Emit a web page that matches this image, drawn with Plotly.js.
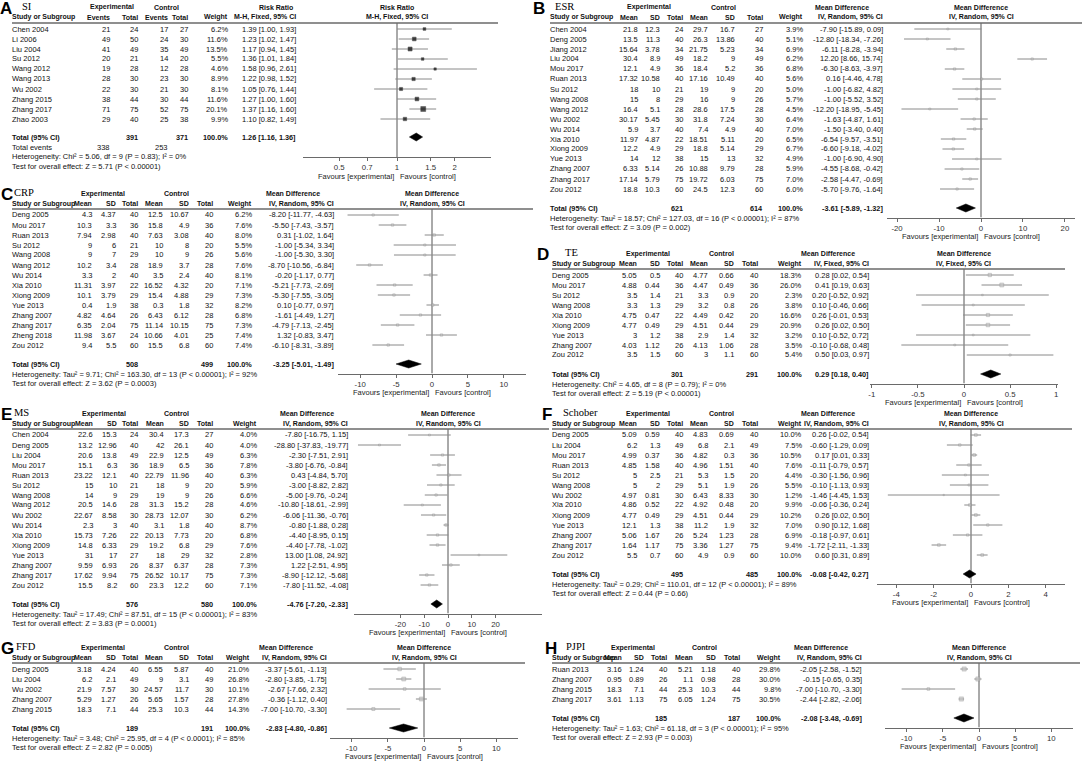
<!DOCTYPE html>
<html><head><meta charset="utf-8">
<script src="https://cdn.plot.ly/plotly-3.0.1.min.js"></script>
<style>html,body{margin:0;padding:0;background:#fff}#chart{width:1084px;height:764px}</style>
</head><body><div id="chart"></div>
<script>
// ===================== DATA =====================
// A: SI (Risk Ratio)
const A_study = ["Chen 2004","Li 2006","Liu 2004","Su 2012","Wang 2012","Wang 2013","Wu 2002","Zhang 2015","Zhang 2017","Zhao 2003"];
const A_expEvents = [21,49,41,20,19,28,22,38,71,29];
const A_expTotal = [24,50,49,21,28,30,30,44,75,40];
const A_ctlEvents = [17,24,35,14,12,23,21,30,52,25];
const A_ctlTotal = [27,30,49,20,28,30,30,44,75,38];
const A_weight = [6.2,11.6,13.5,5.5,4.6,8.9,8.1,11.6,20.1,9.9];
const A_est = [1.39,1.23,1.17,1.36,1.58,1.22,1.05,1.27,1.37,1.10];
const A_lo = [1.00,1.02,0.94,1.01,0.96,0.98,0.76,1.00,1.16,0.82];
const A_hi = [1.93,1.47,1.45,1.84,2.61,1.52,1.44,1.60,1.60,1.49];
const A_totalN = [391,371];
const A_totalEvents = [338,253];
const A_total = [1.26,1.16,1.36];
const A_het = "Heterogeneity: Chi² = 5.06, df = 9 (P = 0.83); I² = 0%";
const A_test = "Test for overall effect: Z = 5.71 (P < 0.00001)";

// B: ESR
const B_study = ["Chen 2004","Deng 2005","Jiang 2012","Liu 2004","Mou 2017","Ruan 2013","Su 2012","Wang 2008","Wang 2012","Wu 2002","Wu 2014","Xia 2010","Xiong 2009","Yue 2013","Zhang 2007","Zhang 2017","Zou 2012"];
const B_expMean = [21.8,13.5,15.64,30.4,12.1,17.32,18,15,16.4,30.17,5.9,11.97,12.2,14,6.33,17.14,18.8];
const B_expSD = [12.3,11.3,3.78,8.9,4.9,10.58,10,8,5.1,5.45,3.7,4.87,4.9,12,5.14,5.79,10.3];
const B_expN = [24,40,34,49,36,40,21,29,28,30,40,22,29,38,26,75,60];
const B_ctlMean = [29.7,26.3,21.75,18.2,18.4,17.16,19,16,28.6,31.8,7.4,18.51,18.8,15,10.88,19.72,24.5];
const B_ctlSD = [16.7,13.86,5.23,9,5.2,10.49,9,9,17.5,7.24,4.9,5.11,5.14,13,9.79,6.03,12.3];
const B_ctlN = [27,40,34,49,36,40,20,26,28,30,40,20,29,32,28,75,60];
const B_weight = [3.9,5.1,6.9,6.2,6.8,5.6,5.0,5.7,4.5,6.4,7.0,6.5,6.7,4.9,5.9,7.0,6.0];
const B_est = [-7.90,-12.80,-6.11,12.20,-6.30,0.16,-1.00,-1.00,-12.20,-1.63,-1.50,-6.54,-6.60,-1.00,-4.55,-2.58,-5.70];
const B_lo = [-15.89,-18.34,-8.28,8.66,-8.63,-4.46,-6.82,-5.52,-18.95,-4.87,-3.40,-9.57,-9.18,-6.90,-8.68,-4.47,-9.76];
const B_hi = [0.09,-7.26,-3.94,15.74,-3.97,4.78,4.82,3.52,-5.45,1.61,0.40,-3.51,-4.02,4.90,-0.42,-0.69,-1.64];
const B_totalN = [621,614];
const B_total = [-3.61,-5.89,-1.32];
const B_het = "Heterogeneity: Tau² = 18.57; Chi² = 127.03, df = 16 (P < 0.00001); I² = 87%";
const B_test = "Test for overall effect: Z = 3.09 (P = 0.002)";

// C: CRP
const C_study = ["Deng 2005","Mou 2017","Ruan 2013","Su 2012","Wang 2008","Wang 2012","Wu 2014","Xia 2010","Xiong 2009","Yue 2013","Zhang 2007","Zhang 2017","Zheng 2018","Zou 2012"];
const C_expMean = [4.3,10.3,7.94,9,9,10.2,3.3,11.31,10.1,0.4,4.82,6.35,11.98,9.4];
const C_expSD = [4.37,3.3,2.98,6,7,3.4,2,3.97,3.79,1.9,4.64,2.04,3.67,5.5];
const C_expN = [40,36,40,21,29,28,40,22,29,38,26,75,24,60];
const C_ctlMean = [12.5,15.8,7.63,10,10,18.9,3.5,16.52,15.4,0.3,6.43,11.14,10.66,15.5];
const C_ctlSD = [10.67,4.9,3.08,8,9,3.7,2.4,4.32,4.88,1.8,6.12,10.15,4.01,6.8];
const C_ctlN = [40,36,40,20,26,28,40,20,29,32,28,75,25,60];
const C_weight = [6.2,7.6,8.0,5.5,5.6,7.6,8.1,7.1,7.3,8.2,6.8,7.3,7.4,7.4];
const C_est = [-8.20,-5.50,0.31,-1.00,-1.00,-8.70,-0.20,-5.21,-5.30,0.10,-1.61,-4.79,1.32,-6.10];
const C_lo = [-11.77,-7.43,-1.02,-5.34,-5.30,-10.56,-1.17,-7.73,-7.55,-0.77,-4.49,-7.13,-0.83,-8.31];
const C_hi = [-4.63,-3.57,1.64,3.34,3.30,-6.84,0.77,-2.69,-3.05,0.97,1.27,-2.45,3.47,-3.89];
const C_totalN = [508,499];
const C_total = [-3.25,-5.01,-1.49];
const C_het = "Heterogeneity: Tau² = 9.71; Chi² = 163.30, df = 13 (P < 0.00001); I² = 92%";
const C_test = "Test for overall effect: Z = 3.62 (P = 0.0003)";

// D: TE
const D_study = ["Deng 2005","Mou 2017","Su 2012","Wang 2008","Xia 2010","Xiong 2009","Yue 2013","Zhang 2007","Zou 2012"];
const D_expMean = [5.05,4.88,3.5,3.3,4.75,4.77,3,4.03,3.5];
const D_expSD = [0.5,0.44,1.4,1.3,0.47,0.49,1.2,1.12,1.5];
const D_expN = [40,36,21,29,22,29,38,26,60];
const D_ctlMean = [4.77,4.47,3.3,3.2,4.49,4.51,2.9,4.13,3];
const D_ctlSD = [0.66,0.49,0.9,0.8,0.42,0.44,1.4,1.06,1.1];
const D_ctlN = [40,36,20,26,20,29,32,28,60];
const D_weight = [18.3,26.0,2.3,3.8,16.6,20.9,3.2,3.5,5.4];
const D_est = [0.28,0.41,0.20,0.10,0.26,0.26,0.10,-0.10,0.50];
const D_lo = [0.02,0.19,-0.52,-0.46,-0.01,0.02,-0.52,-0.68,0.03];
const D_hi = [0.54,0.63,0.92,0.66,0.53,0.50,0.72,0.48,0.97];
const D_totalN = [301,291];
const D_total = [0.29,0.18,0.40];
const D_het = "Heterogeneity: Chi² = 4.65, df = 8 (P = 0.79); I² = 0%";
const D_test = "Test for overall effect: Z = 5.19 (P < 0.00001)";

// E: MS
const E_study = ["Chen 2004","Deng 2005","Liu 2004","Mou 2017","Ruan 2013","Su 2012","Wang 2008","Wang 2012","Wu 2002","Wu 2014","Xia 2010","Xiong 2009","Yue 2013","Zhang 2007","Zhang 2017","Zou 2012"];
const E_expMean = [22.6,13.2,20.6,15.1,23.22,15,14,20.5,22.67,2.3,15.73,14.8,31,9.59,17.62,15.5];
const E_expSD = [15.3,12.96,13.8,6.3,12.1,10,9,14.6,8.58,3,7.26,6.33,17,6.93,9.94,8.2];
const E_expN = [24,40,49,36,40,21,29,28,30,40,22,29,27,26,75,60];
const E_ctlMean = [30.4,42,22.9,18.9,22.79,18,19,31.3,28.73,3.1,20.13,19.2,18,8.37,26.52,23.3];
const E_ctlSD = [17.3,26.1,12.5,6.5,11.96,9,9,15.2,12.07,1.8,7.73,6.8,29,6.37,10.17,12.2];
const E_ctlN = [27,40,49,36,40,20,26,28,30,40,20,29,32,28,75,60];
const E_weight = [4.0,4.0,6.3,7.8,6.3,5.9,6.6,4.6,6.2,8.7,6.8,7.6,2.8,7.3,7.3,7.1];
const E_est = [-7.80,-28.80,-2.30,-3.80,0.43,-3.00,-5.00,-10.80,-6.06,-0.80,-4.40,-4.40,13.00,1.22,-8.90,-7.80];
const E_lo = [-16.75,-37.83,-7.51,-6.76,-4.84,-8.82,-9.76,-18.61,-11.36,-1.88,-8.95,-7.78,1.08,-2.51,-12.12,-11.52];
const E_hi = [1.15,-19.77,2.91,-0.84,5.70,2.82,-0.24,-2.99,-0.76,0.28,0.15,-1.02,24.92,4.95,-5.68,-4.08];
const E_totalN = [576,580];
const E_total = [-4.76,-7.20,-2.33];
const E_het = "Heterogeneity: Tau² = 17.49; Chi² = 87.51, df = 15 (P < 0.00001); I² = 83%";
const E_test = "Test for overall effect: Z = 3.83 (P = 0.0001)";

// F: Schober
const F_study = ["Deng 2005","Liu 2004","Mou 2017","Ruan 2013","Su 2012","Wang 2008","Wu 2002","Xia 2010","Xiong 2009","Yue 2013","Zhang 2007","Zhang 2017","Zou 2012"];
const F_expMean = [5.09,6.2,4.99,4.85,5,5,4.97,4.86,4.77,12.1,5.06,1.64,5.5];
const F_expSD = [0.59,1.3,0.37,1.58,2.5,2,0.81,0.52,0.49,1.3,1.67,1.17,0.7];
const F_expN = [40,49,36,40,21,29,30,22,29,38,26,75,60];
const F_ctlMean = [4.83,6.8,4.82,4.96,5.3,5.1,6.43,4.92,4.51,11.2,5.24,3.36,4.9];
const F_ctlSD = [0.69,2.1,0.3,1.51,1.5,1.9,8.33,0.48,0.44,1.9,1.23,1.27,0.9];
const F_ctlN = [40,49,36,40,20,26,30,20,29,32,28,75,60];
const F_weight = [10.0,7.5,10.5,7.6,4.4,5.5,1.2,9.9,10.2,7.0,6.9,9.4,10.0];
const F_est = [0.26,-0.60,0.17,-0.11,-0.30,-0.10,-1.46,-0.06,0.26,0.90,-0.18,-1.72,0.60];
const F_lo = [-0.02,-1.29,0.01,-0.79,-1.56,-1.13,-4.45,-0.36,0.02,0.12,-0.97,-2.11,0.31];
const F_hi = [0.54,0.09,0.33,0.57,0.96,0.93,1.53,0.24,0.50,1.68,0.61,-1.33,0.89];
const F_totalN = [495,485];
const F_total = [-0.08,-0.42,0.27];
const F_het = "Heterogeneity: Tau² = 0.29; Chi² = 110.01, df = 12 (P < 0.00001); I² = 89%";
const F_test = "Test for overall effect: Z = 0.44 (P = 0.66)";

// G: FFD
const G_study = ["Deng 2005","Liu 2004","Wu 2002","Zhang 2007","Zhang 2015"];
const G_expMean = [3.18,6.2,21.9,5.29,18.3];
const G_expSD = [4.24,2.1,7.57,1.27,7.1];
const G_expN = [40,49,30,26,44];
const G_ctlMean = [6.55,9,24.57,5.65,25.3];
const G_ctlSD = [5.87,3.1,11.7,1.57,10.3];
const G_ctlN = [40,49,30,28,44];
const G_weight = [21.0,26.8,10.1,27.8,14.3];
const G_est = [-3.37,-2.80,-2.67,-0.36,-7.00];
const G_lo = [-5.61,-3.85,-7.66,-1.12,-10.70];
const G_hi = [-1.13,-1.75,2.32,0.40,-3.30];
const G_totalN = [189,191];
const G_total = [-2.83,-4.80,-0.86];
const G_het = "Heterogeneity: Tau² = 3.48; Chi² = 25.95, df = 4 (P < 0.0001); I² = 85%";
const G_test = "Test for overall effect: Z = 2.82 (P = 0.005)";

// H: PJPI
const H_study = ["Ruan 2013","Zhang 2007","Zhang 2015","Zhang 2017"];
const H_expMean = [3.16,0.95,18.3,3.61];
const H_expSD = [1.24,0.89,7.1,1.13];
const H_expN = [40,26,44,75];
const H_ctlMean = [5.21,1.1,25.3,6.05];
const H_ctlSD = [1.18,0.98,10.3,1.24];
const H_ctlN = [40,28,44,75];
const H_weight = [29.8,30.0,9.8,30.5];
const H_est = [-2.05,-0.15,-7.00,-2.44];
const H_lo = [-2.58,-0.65,-10.70,-2.82];
const H_hi = [-1.52,0.35,-3.30,-2.06];
const H_totalN = [185,187];
const H_total = [-2.08,-3.48,-0.69];
const H_het = "Heterogeneity: Tau² = 1.63; Chi² = 61.18, df = 3 (P < 0.00001); I² = 95%";
const H_test = "Test for overall effect: Z = 2.93 (P = 0.003)";

// ===================== PANEL OPTIONS (layout) =====================
const panels = [
 {letter:'A', name:'SI', kind:'rr', study:A_study, cells:[A_expEvents,A_expTotal,A_ctlEvents,A_ctlTotal], w:A_weight, est:A_est, lo:A_lo, hi:A_hi, totN:A_totalN, totE:A_totalEvents, tot:A_total, het:A_het, test:A_test,
  effect:'Risk Ratio', method:'M-H, Fixed, 95% CI', x0:12, cols:[110,138,168,188,228,296], cx:397, range:[0.3236,3.09], ticks:[0.5,0.7,1,1.5,2], F:29, lx:0, nx:22},
 {letter:'B', name:'ESR', kind:'md', study:B_study, cells:[B_expMean,B_expSD,B_expN,B_ctlMean,B_ctlSD,B_ctlN], w:B_weight, est:B_est, lo:B_lo, hi:B_hi, totN:B_totalN, tot:B_total, het:B_het, test:B_test,
  effect:'Mean Difference', method:'IV, Random, 95% CI', x0:550, cols:[638,660,683,708,735,763,803,883], cx:981, range:[-22.4,22.4], ticks:[-20,-10,0,10,20], F:29, lx:533, nx:555},
 {letter:'C', name:'CRP', kind:'md', study:C_study, cells:[C_expMean,C_expSD,C_expN,C_ctlMean,C_ctlSD,C_ctlN], w:C_weight, est:C_est, lo:C_lo, hi:C_hi, totN:C_totalN, tot:C_total, het:C_het, test:C_test,
  effect:'Mean Difference', method:'IV, Random, 95% CI', x0:12, cols:[92,116,138,163,189,213,252,334], cx:432, range:[-13.1,13.1], ticks:[-10,-5,0,5,10], F:215, lx:1, nx:14},
 {letter:'D', name:'TE', kind:'md', study:D_study, cells:[D_expMean,D_expSD,D_expN,D_ctlMean,D_ctlSD,D_ctlN], w:D_weight, est:D_est, lo:D_lo, hi:D_hi, totN:D_totalN, tot:D_total, het:D_het, test:D_test,
  effect:'Mean Difference', method:'IV, Fixed, 95% CI', x0:552, cols:[637,660,683,708,734,758,802,869], cx:964, range:[-1.02,1.02], ticks:[-1,-0.5,0,0.5,1], F:275, lx:537, nx:565},
 {letter:'E', name:'MS', kind:'md', study:E_study, cells:[E_expMean,E_expSD,E_expN,E_ctlMean,E_ctlSD,E_ctlN], w:E_weight, est:E_est, lo:E_lo, hi:E_hi, totN:E_totalN, tot:E_total, het:E_het, test:E_test,
  effect:'Mean Difference', method:'IV, Random, 95% CI', x0:12, cols:[93,117,138,164,189,213,257,348], cx:448, range:[-39.5,39.5], ticks:[-20,-10,0,10,20], F:435, lx:1, nx:14},
 {letter:'F', name:'Schober', kind:'md', study:F_study, cells:[F_expMean,F_expSD,F_expN,F_ctlMean,F_ctlSD,F_ctlN], w:F_weight, est:F_est, lo:F_lo, hi:F_hi, totN:F_totalN, tot:F_total, het:F_het, test:F_test,
  effect:'Mean Difference', method:'IV, Random, 95% CI', x0:552, cols:[637,660,683,708,734,758,802,869], cx:971, range:[-5.03,5.03], ticks:[-4,-2,0,2,4], F:435, lx:542, nx:563},
 {letter:'G', name:'FFD', kind:'md', study:G_study, cells:[G_expMean,G_expSD,G_expN,G_ctlMean,G_ctlSD,G_ctlN], w:G_weight, est:G_est, lo:G_lo, hi:G_hi, totN:G_totalN, tot:G_total, het:G_het, test:G_test,
  effect:'Mean Difference', method:'IV, Random, 95% CI', x0:12, cols:[92,116,138,163,189,213,250,327], cx:424, range:[-13,13], ticks:[-10,-5,0,5,10], F:669, lx:1, nx:16},
 {letter:'H', name:'PJPI', kind:'md', study:H_study, cells:[H_expMean,H_expSD,H_expN,H_ctlMean,H_ctlSD,H_ctlN], w:H_weight, est:H_est, lo:H_lo, hi:H_hi, totN:H_totalN, tot:H_total, het:H_het, test:H_test,
  effect:'Mean Difference', method:'IV, Random, 95% CI', x0:552, cols:[622,644,667,693,716,740,781,862], cx:979, range:[-13,13], ticks:[-10,-5,0,5,10], F:669, lx:545, nx:566}
];

// ===================== BUILD =====================
const W = 1084, H = 764, RH = 10, HALF = 94;
const FONT = '"Liberation Sans", Arial, sans-serif';
const SERIF = '"Liberation Serif", "Times New Roman", serif';
const FS = 7.5, FSB = 7;
const annotations = [], shapes = [], traces = [];
const layout = {width:W, height:H, margin:{l:0,r:0,t:0,b:0,pad:0}, paper_bgcolor:'#ffffff', plot_bgcolor:'rgba(0,0,0,0)',
  showlegend:false, hovermode:false, annotations:annotations, shapes:shapes};

const py = y => 1 - y / H;
function txt(x, y, s, anchor, o) {
  o = o || {};
  annotations.push({xref:'paper', yref:'paper', x:x / W, y:py(y), text:o.bold ? '<b>' + s + '</b>' : s,
    showarrow:false, xanchor:anchor || 'left', yanchor:'middle', borderpad:0, borderwidth:0,
    font:{family:o.family || FONT, size:o.size || (o.bold ? FSB : FS), color:o.color || '#111'}});
}
const f2 = v => v.toFixed(2);
const ciText = (e, l, h) => f2(e) + ' [' + f2(l) + ', ' + f2(h) + ']';

panels.forEach((p, k) => {
  const n = p.study.length;
  const rr = p.kind === 'rr';
  const xs = k === 0 ? 'x' : 'x' + (k + 1), ys = k === 0 ? 'y' : 'y' + (k + 1);
  const xn = k === 0 ? 'xaxis' : 'xaxis' + (k + 1), yn = k === 0 ? 'yaxis' : 'yaxis' + (k + 1);
  const rowY = i => p.F + RH * i;
  const axisIdx = rr ? n + 2.8 : n + 1.85;
  const totIdx = rr ? n + 0.8 : n + 0.9;
  const hetIdx = rr ? n + 2.8 : n + 1.9;
  const testIdx = rr ? n + 3.8 : n + 2.85;
  const axisY = rowY(axisIdx);
  const ulY = p.F - 6;
  const h1 = p.F - 21.5, h2 = p.F - 11.5;
  const nc = p.cells.length;

  layout[xn] = {domain:[(p.cx - HALF) / W, (p.cx + HALF) / W], type: rr ? 'log' : 'linear',
    range: rr ? [Math.log10(p.range[0]), Math.log10(p.range[1])] : p.range, autorange:false,
    anchor: ys, tickmode:'array', tickvals:p.ticks, ticktext:p.ticks.map(String),
    showgrid:false, zeroline:false, showline:true, linecolor:'#6a6a6a', linewidth:1,
    ticks:'outside', ticklen:3, tickcolor:'#6a6a6a', tickfont:{family:FONT, size:7.8, color:'#333'}, fixedrange:true};
  layout[yn] = {domain:[py(axisY), py(ulY)], range:[axisIdx, -0.6], autorange:false, anchor: xs,
    visible:false, showgrid:false, zeroline:false, fixedrange:true};

  // null line
  const nullV = rr ? 1 : 0;
  traces.push({type:'scatter', mode:'lines', x:[nullV, nullV], y:[-0.6, axisIdx], xaxis:xs, yaxis:ys,
    line:{color:'#555', width:1}, hoverinfo:'skip'});
  // CI lines
  const lx = [], ly = [];
  p.study.forEach((s, i) => { lx.push(p.lo[i], p.hi[i], null); ly.push(i, i, null); });
  traces.push({type:'scatter', mode:'lines', x:lx, y:ly, xaxis:xs, yaxis:ys,
    line:{color:'#8a8a8a', width:1}, hoverinfo:'skip'});
  // point estimates
  traces.push({type:'scatter', mode:'markers', x:p.est, y:p.study.map((s, i) => i), xaxis:xs, yaxis:ys,
    marker:{symbol:'square', size:p.w.map(w => rr ? 1.1 * Math.sqrt(w) : 0.65 * Math.sqrt(w) + 0.6),
      color: rr ? '#000' : '#c4c4c4', line:{color: rr ? '#000' : '#8c8c8c', width:0.5}}, hoverinfo:'skip'});
  // pooled diamond
  const t = totIdx;
  traces.push({type:'scatter', mode:'lines', x:[p.tot[1], p.tot[0], p.tot[2], p.tot[0], p.tot[1]],
    y:[t, t - 0.4, t, t + 0.4, t], fill:'toself', fillcolor:'#000', line:{color:'#000', width:0.5},
    xaxis:xs, yaxis:ys, hoverinfo:'skip'});

  // header underline
  shapes.push({type:'line', xref:'paper', yref:'paper', x0:p.x0 / W, x1:(p.cx + HALF + 7) / W,
    y0:py(ulY), y1:py(ulY), line:{color:'#6a6a6a', width:1.5}});

  // panel label
  txt(p.lx, h1 + 0.5, p.letter, 'left', {bold:true, size:17, color:'#000'});
  txt(p.nx, h1 - 1, p.name, 'left', {family:SERIF, size:10.5, color:'#000'});

  // header rows
  const c = p.cols;
  if (rr) {
    txt((c[0] - 24 + c[1]) / 2, h1, 'Experimental', 'center', {bold:true});
    txt((c[2] - 24 + c[3]) / 2, h1, 'Control', 'center', {bold:true});
    txt(c[5] - 20, h1, p.effect, 'center', {bold:true});
    ['Events', 'Total', 'Events', 'Total', 'Weight'].forEach((s, j) => txt(c[j], h2, s, 'right', {bold:true}));
  } else {
    txt((c[0] - 24 + c[2]) / 2, h1, 'Experimental', 'center', {bold:true});
    txt((c[3] - 24 + c[5]) / 2, h1, 'Control', 'center', {bold:true});
    txt(c[7] - 41, h1, p.effect, 'center', {bold:true});
    ['Mean', 'SD', 'Total', 'Mean', 'SD', 'Total', 'Weight'].forEach((s, j) => txt(c[j], h2, s, 'right', {bold:true}));
  }
  txt(p.x0, h2, 'Study or Subgroup', 'left', {bold:true});
  txt(c[nc + 1], h2, p.method, 'right', {bold:true});
  txt(p.cx, h1, p.effect, 'center', {bold:true});
  txt(p.cx, h2, p.method, 'center', {bold:true});

  // study rows
  p.study.forEach((s, i) => {
    const y = rowY(i);
    txt(p.x0, y, s, 'left');
    p.cells.forEach((arr, j) => txt(c[j], y, String(arr[i]), 'right'));
    txt(c[nc], y, p.w[i].toFixed(1) + '%', 'right');
    txt(c[nc + 1], y, ciText(p.est[i], p.lo[i], p.hi[i]), 'right');
  });

  // total row
  const ty = rowY(totIdx);
  txt(p.x0, ty, 'Total (95% CI)', 'left', {bold:true, size:7.3});
  txt(c[rr ? 1 : 2], ty, String(p.totN[0]), 'right', {bold:true, size:7.3});
  txt(c[rr ? 3 : 5], ty, String(p.totN[1]), 'right', {bold:true, size:7.3});
  txt(c[nc], ty, '100.0%', 'right', {bold:true, size:7.3});
  txt(c[nc + 1], ty, ciText(p.tot[0], p.tot[1], p.tot[2]), 'right', {bold:true, size:7.3});
  if (rr) {
    const ey = rowY(n + 1.8);
    txt(p.x0, ey, 'Total events', 'left');
    txt(c[0], ey, String(p.totE[0]), 'right');
    txt(c[2], ey, String(p.totE[1]), 'right');
  }
  txt(p.x0, rowY(hetIdx), p.het, 'left');
  txt(p.x0, rowY(testIdx), p.test, 'left');

  // favours
  txt(p.cx - 3, axisY + 19, 'Favours [experimental]', 'right', {color:'#222'});
  txt(p.cx + 3, axisY + 19, 'Favours [control]', 'left', {color:'#222'});
});

Plotly.newPlot('chart', traces, layout, {staticPlot:true, displayModeBar:false});
</script>
</body></html>
